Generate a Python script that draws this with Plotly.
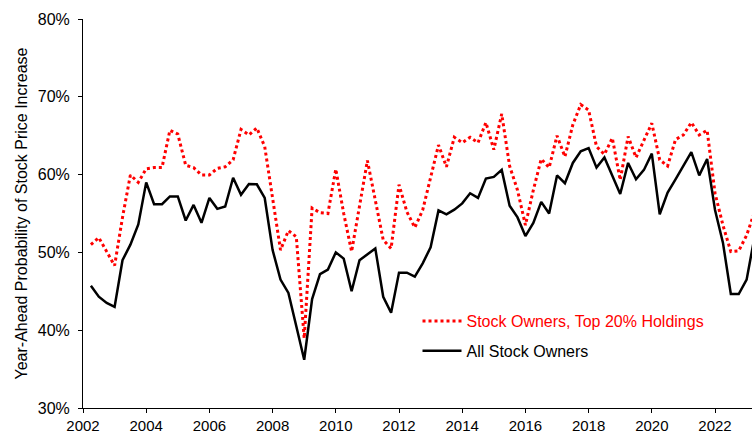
import plotly.graph_objects as go

# Quarterly observations, starting 2002 Q2 (decimal years)
start_year = 2002.25
all_owners = [45.7, 44.3, 43.5, 43.0, 49.0, 51.0, 53.6, 59.0, 56.2, 56.2, 57.2, 57.2,
              54.1, 56.1, 53.8, 57.0, 55.6, 55.9, 59.6, 57.4, 58.8, 58.75, 57.0, 50.3,
              46.5, 44.8, 40.5, 36.2, 44.0, 47.2, 47.8, 50.0, 49.2, 45.0, 49.0, 49.8,
              50.5, 44.3, 42.25, 47.4, 47.4, 46.9, 48.6, 50.65, 55.4, 54.9, 55.5, 56.3,
              57.6, 57.0, 59.5, 59.7, 60.6, 56.0, 54.5, 52.1, 53.8, 56.5, 55.0, 59.9,
              58.9, 61.5, 63.0, 63.4, 60.9, 62.2, 59.9, 57.5, 61.5, 59.4, 60.6, 62.7,
              54.9, 57.7, 59.4, 61.2, 62.9, 59.9, 62.0, 55.45, 51.25, 44.65, 44.65, 46.5,
              52.0]
top20_owners = [51.0, 51.9, 50.1, 48.3, 54.5, 59.95, 59.0, 60.75, 60.9, 60.9, 65.7, 65.2,
                61.2, 60.9, 59.95, 59.95, 60.8, 61.0, 61.9, 65.8, 65.1, 66.0, 63.6, 56.95,
                50.3, 52.8, 52.0, 38.95, 55.7, 55.1, 55.0, 60.7, 55.0, 50.1, 55.9, 61.8,
                56.7, 51.6, 50.5, 58.7, 55.2, 53.2, 55.45, 59.7, 63.8, 61.0, 64.8, 64.1,
                64.8, 64.1, 66.7, 63.2, 67.8, 61.1, 58.0, 53.5, 58.0, 62.0, 60.9, 65.0,
                62.3, 66.4, 69.0, 68.3, 63.6, 62.6, 64.7, 59.3, 64.9, 62.2, 64.3, 66.6,
                61.9, 61.1, 64.5, 65.1, 66.7, 65.1, 65.7, 57.6, 53.5, 50.1, 50.2, 52.2,
                55.2]
dates = [start_year + 0.25 * i for i in range(len(all_owners))]

x_tick_vals = list(range(2002, 2023, 2))
x_tick_text = [str(v) for v in x_tick_vals]
y_tick_vals = [30, 40, 50, 60, 70, 80]
y_tick_text = [f"{v}%" for v in y_tick_vals]

fig = go.Figure()
fig.add_trace(go.Scatter(
    x=dates, y=top20_owners, mode="lines",
    name="<span style='color:#FF0000'>Stock Owners, Top 20% Holdings</span>",
    line=dict(color="#FF0000", width=3, dash="dot"),
    legendgroup="a",
))
fig.add_trace(go.Scatter(
    x=dates, y=all_owners, mode="lines",
    name="All Stock Owners",
    line=dict(color="#000000", width=2.5),
    legendgroup="b",
))

font_family = "Liberation Sans, Arial, sans-serif"
fig.update_layout(
    width=752, height=434,
    margin=dict(l=83, r=0, t=19, b=26),
    paper_bgcolor="white", plot_bgcolor="white",
    font=dict(family=font_family, size=16, color="#000000"),
    showlegend=True,
    legend=dict(
        x=0.5, y=0.267, xanchor="left", yanchor="top",
        bgcolor="rgba(0,0,0,0)", borderwidth=0,
        font=dict(size=16),
        tracegroupgap=6,
        itemwidth=39,
    ),
    xaxis=dict(
        range=[2002, 2023.17],
        tickmode="array", tickvals=x_tick_vals, ticktext=x_tick_text,
        showgrid=False, zeroline=False,
        showline=True, linecolor="#000000", linewidth=1,
        ticks="outside", ticklen=4, tickcolor="#000000",
        tickfont=dict(size=15),
        automargin=False,
    ),
    yaxis=dict(
        range=[30, 80],
        tickmode="array", tickvals=y_tick_vals, ticktext=y_tick_text,
        showgrid=False, zeroline=False,
        showline=True, linecolor="#000000", linewidth=1,
        ticks="outside", ticklen=4, tickcolor="#000000",
        tickfont=dict(size=16),
        ticklabelstandoff=5,
        title=dict(text="Year-Ahead Probability of Stock Price Increase",
                   font=dict(size=16), standoff=6),
        automargin=False,
    ),
)

fig.write_html("out.html",
               config={"displayModeBar": False},
               post_script="document.body.style.margin='0';")
